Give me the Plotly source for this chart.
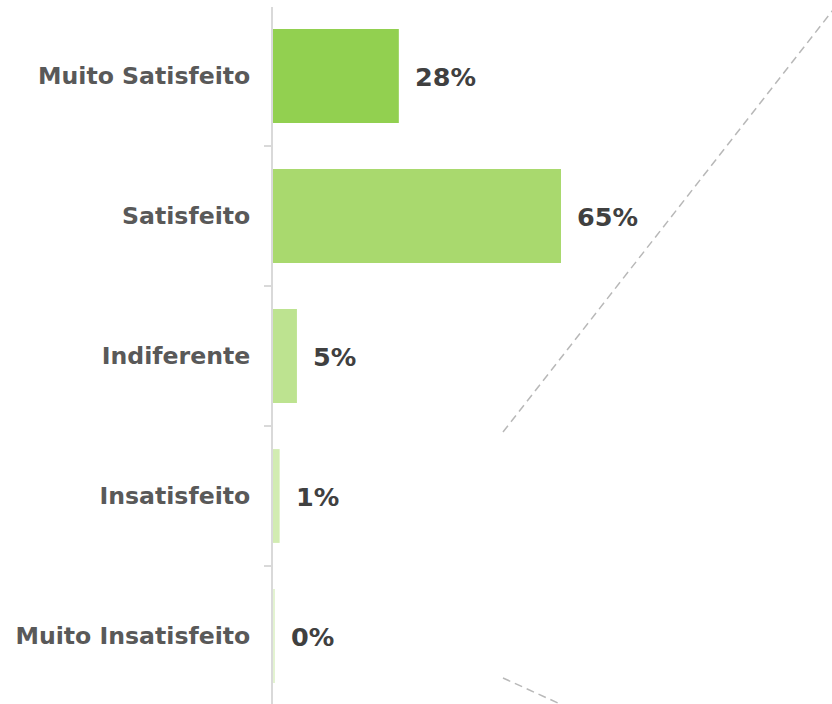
import plotly.graph_objects as go

categories = ["Muito Satisfeito", "Satisfeito", "Indiferente", "Insatisfeito", "Muito Insatisfeito"]
values = [28.4, 65.0, 5.4, 1.5, 0.4]
labels = ["28%", "65%", "5%", "1%", "0%"]
colors = ["#92D050", "#A9D96E", "#BDE390", "#D2ECB2", "#E3F3D1"]

W, H = 832, 704
mt, mb, ml, mr = 7, 0, 273, 0
plot_w = W - ml - mr
plot_h = H - mt - mb
px_per_unit = 288 / 65.0
xmax = plot_w / px_per_unit

fig = go.Figure()
fig.add_trace(go.Bar(
    y=categories, x=values, orientation="h",
    marker=dict(color=colors, line=dict(width=0)),
    hoverinfo="skip",
))

for c, v, t in zip(categories, values, labels):
    fig.add_annotation(x=v, y=c, xref="x", yref="y", text="<b>" + t + "</b>",
                       showarrow=False, xanchor="left", yanchor="middle", xshift=14, yshift=-1,
                       font=dict(family="DejaVu Sans", size=25.5, color="#404040"))

def paper(px, py):
    return (px - ml) / plot_w, (H - mb - py) / plot_h

dash_lines = [((503, 432), (840, 1)), ((503, 678), (580, 713))]
for (a, b) in dash_lines:
    x0, y0 = paper(*a)
    x1, y1 = paper(*b)
    fig.add_shape(type="line", xref="paper", yref="paper", x0=x0, y0=y0, x1=x1, y1=y1,
                  line=dict(color="#B8B8B8", width=1.5, dash="8px,5px"))

top_idx = -(76 - mt) / 140.0
bot_idx = top_idx + plot_h / 140.0

fig.update_layout(
    width=W, height=H,
    margin=dict(l=ml, r=mr, t=mt, b=mb, pad=0),
    paper_bgcolor="white", plot_bgcolor="white",
    bargap=0.33,
    showlegend=False,
    xaxis=dict(range=[0, xmax], visible=False, showgrid=False, zeroline=False),
    yaxis=dict(
        type="category", categoryorder="array", categoryarray=categories,
        range=[bot_idx, top_idx],
        showline=True, linecolor="#D9D9D9", linewidth=2,
        ticks="outside", tickson="boundaries", ticklen=7, tickcolor="#D9D9D9", tickwidth=1.5,
        showgrid=False, zeroline=False,
        tickfont=dict(family="DejaVu Sans", size=23.6, color="#595959"),
        ticklabelstandoff=16,
    ),
)
fig.update_yaxes(tickprefix="<b>", ticksuffix="</b>")

fig.write_html("out.html")
